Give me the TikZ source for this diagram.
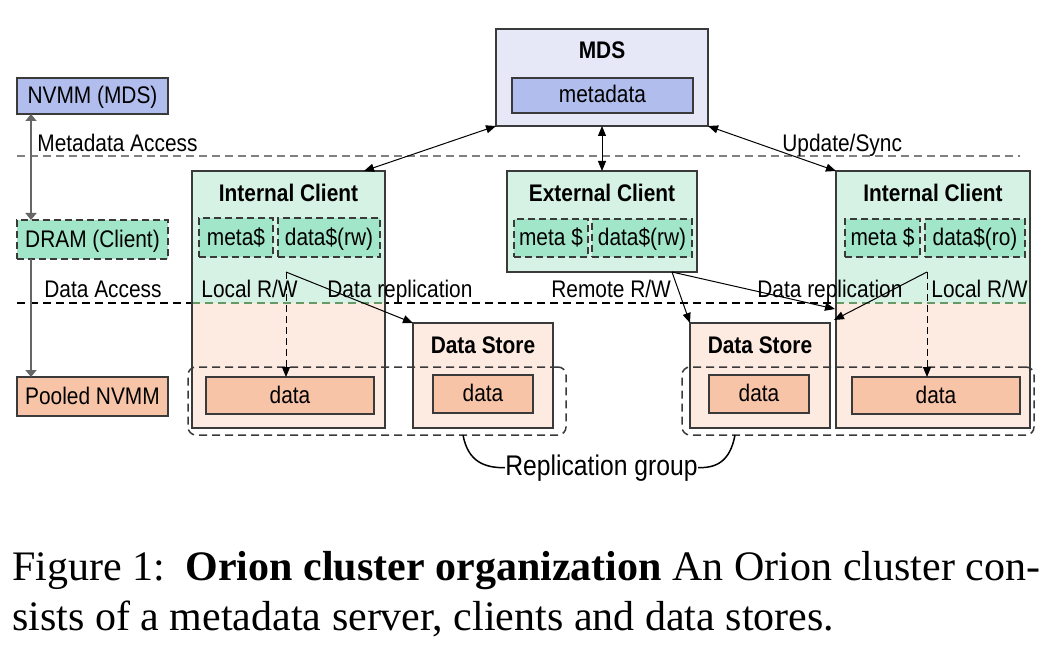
\documentclass[tikz,border=0pt]{standalone}
\usepackage{fontspec}
\setmainfont{Liberation Serif}
\newfontfamily\hv[FakeStretch=0.87]{Liberation Sans}
\usetikzlibrary{arrows.meta,fit,calc}
\definecolor{blueL}{HTML}{E6E8F8}
\definecolor{blueD}{HTML}{B1BDEC}
\definecolor{greenL}{HTML}{D6F2E5}
\definecolor{greenD}{HTML}{A2E6C9}
\definecolor{salL}{HTML}{FDEAE0}
\definecolor{salD}{HTML}{F8C4A8}
\definecolor{bordercol}{HTML}{3A3A3A}
\definecolor{legline}{HTML}{666666}
\begin{document}
\begin{tikzpicture}[x=0.5pt,y=-0.5pt,
  box/.style={draw=bordercol,line width=0.75pt,inner sep=0pt,outer sep=0pt},
  dbox/.style={box,dash pattern=on 3.5pt off 2pt},
  txt/.style={font=\hv\fontsize{12}{14}\selectfont,inner sep=0pt,anchor=base},
  ttl/.style={font=\hv\bfseries\fontsize{12}{14}\selectfont,inner sep=0pt,anchor=base},
  conn/.style={line width=0.5pt,-{Triangle[length=5pt,width=4pt]}},
  biconn/.style={line width=0.5pt,{Triangle[length=5pt,width=4pt]}-{Triangle[length=5pt,width=4pt]}},
  legconn/.style={draw=legline,line width=0.8pt,-{Triangle[length=3.5pt,width=5.5pt]}},
  legbiconn/.style={draw=legline,line width=0.8pt,{Triangle[length=3.5pt,width=5.5pt]}-{Triangle[length=3.5pt,width=5.5pt]}},
  sep/.style={line width=0.75pt,dash pattern=on 4pt off 2.5pt},
  group/.style={draw=bordercol,line width=0.75pt,dash pattern=on 4pt off 2.5pt,rounded corners=4pt,inner sep=0pt}
]
\useasboundingbox[fill=white] (0,0) rectangle (1062,658);

% separator lines
\draw[sep,draw=gray] (17,156) -- (1020,156);
\draw[sep,draw=black] (17,303) -- (1030,303);

% legend
\node[box,fill=blueD,fit={(17,78)(168,114)}] (nvmm) {};
\node[box,dash pattern=on 3.5pt off 2pt,fill=greenD,fit={(17,220)(168,259)}] (dram) {};
\node[box,fill=salD,fit={(17,377)(168,416)}] (pooled) {};
\node[txt] (nvmmt) at (92.5,104) {NVMM (MDS)};
\node[txt] (dramt) at (92.5,248) {DRAM (Client)};
\node[txt] (pooledt) at (92.5,404) {Pooled NVMM};
\draw[legbiconn] ($(nvmm.south west)+(14,0)$) -- ($(dram.north west)+(14,0)$);
\draw[legconn] ($(dram.south west)+(14,0)$) -- ($(pooled.north west)+(14,0)$);
\node[txt,anchor=base west] (mdacc) at (37,152) {Metadata Access};
\node[txt,anchor=base west] (dacc) at (44,298) {Data Access};

% MDS
\node[box,fill=blueL,fit={(496,29)(708,126)}] (mds) {};
\node[box,fill=blueD,fit={(512,78)(693,113)}] (meta) {};
\node[ttl] (mdst) at (602,59) {MDS};
\node[txt] (metat) at (602.5,103) {metadata};

% left internal client
\fill[greenL] (192,171) rectangle (385,303);
\fill[salL] (192,303) rectangle (385,428);
\draw[sep,draw=gray!80!green] (192,303) -- (385,303);
\node[box,fit={(192,171)(385,428)}] (lc) {};
\node[ttl] (lct) at (288.5,202) {Internal Client};
\node[dbox,fill=greenD,fit={(199,218)(273,257)}] (lcm) {};
\node[dbox,fill=greenD,fit={(278,218)(380,257)}] (lcd) {};
\node[txt] (lcmt) at (236,246) {meta\$};
\node[txt] (lcdt) at (329,246) {data\$(rw)};
\node[box,fill=salD,fit={(206,377)(374,414)}] (lcdata) {};
\node[txt] (lcdatat) at (290,403) {data};

% external client
\node[box,fill=greenL,fit={(507,171)(697,272)}] (ec) {};
\node[ttl] (ect) at (602,202) {External Client};
\node[dbox,fill=greenD,fit={(514,219)(588,257)}] (ecm) {};
\node[dbox,fill=greenD,fit={(592,219)(692,257)}] (ecd) {};
\node[txt] (ecmt) at (551,246) {meta \$};
\node[txt] (ecdt) at (642,246) {data\$(rw)};

% right internal client
\fill[greenL] (836,171) rectangle (1030,303);
\fill[salL] (836,303) rectangle (1030,428);
\draw[sep,draw=gray!80!green] (836,303) -- (1030,303);
\node[box,fit={(836,171)(1030,428)}] (rc) {};
\node[ttl] (rct) at (933,202) {Internal Client};
\node[dbox,fill=greenD,fit={(845,219)(920,257)}] (rcm) {};
\node[dbox,fill=greenD,fit={(925,219)(1025,257)}] (rcd) {};
\node[txt] (rcmt) at (882.5,246) {meta \$};
\node[txt] (rcdt) at (975,246) {data\$(ro)};
\node[box,fill=salD,fit={(852,377)(1020,414)}] (rcdata) {};
\node[txt] (rcdatat) at (936,403) {data};

% data stores
\node[box,fill=salL,fit={(413,323)(553,428)}] (ds1) {};
\node[ttl] (ds1t) at (483,353) {Data Store};
\node[box,fill=salD,fit={(433,375)(533,413)}] (ds1d) {};
\node[txt] (ds1dt) at (483,401) {data};
\node[box,fill=salL,fit={(690,323)(830,428)}] (ds2) {};
\node[ttl] (ds2t) at (760,353) {Data Store};
\node[box,fill=salD,fit={(709,375)(809,413)}] (ds2d) {};
\node[txt] (ds2dt) at (759,401) {data};

% replication groups
\node[group,fit={(188,367)(566,435)}] (rg1) {};
\node[group,fit={(682,367)(1034,435)}] (rg2) {};
\node[txt,font=\hv\fontsize{14.2}{16}\selectfont] (rgt) at (601.5,475) {Replication group};
\coordinate (c1) at (463,435);
\coordinate (c2) at (735,435);
\draw[line width=0.75pt] (c1) .. controls (468,462) and (485,468) .. (rgt.west);
\draw[line width=0.75pt] (c2) .. controls (730,462) and (716,468) .. (rgt.east);

% MDS connections
\coordinate (lctop) at (364,171);
\draw[biconn] (mds.south west) -- (lctop);
\draw[biconn] (mds.south) -- (ec.north);
\draw[biconn] (mds.south east) -- (rc.north west);
\node[txt,anchor=base west] (upd) at (782,152) {Update/Sync};

% data paths
\coordinate (lj) at (286,272);
\draw[conn] (lj) -- (ds1.north west);
\draw[conn,dash pattern=on 3.5pt off 2pt] (lj) -- (lj |- lcdata.north);
\coordinate (ej) at (672,272);
\coordinate (rcw) at (835,309);
\draw[conn] (ej) -- (ds2.north west);
\draw[conn] (ej) -- (rcw);
\coordinate (rj) at (927,272);
\coordinate (ds2ne) at (834,320);
\draw[conn] (rj) -- (ds2ne);
\draw[conn,dash pattern=on 3.5pt off 2pt] (rj) -- (rj |- rcdata.north);

\node[txt,anchor=base west] (lrw1) at (201,298) {Local R/W};
\node[txt,anchor=base west] (drep1) at (327,298) {Data replication};
\node[txt,anchor=base west] (rrw) at (551,298) {Remote R/W};
\node[txt,anchor=base west] (drep2) at (757,298) {Data replication};
\node[txt,anchor=base west] (lrw2) at (931,298) {Local R/W};

% caption
\node[anchor=base west,inner sep=0pt,font=\fontsize{21}{25}\selectfont] (cap1) at (12,580)
  {\makebox[514pt][s]{Figure 1:\hspace{0.48em}\textbf{Orion cluster organization} An Orion cluster con-}};
\node[anchor=base west,inner sep=0pt,font=\fontsize{21}{25}\selectfont] (cap2) at (12,630)
  {sists of a metadata server, clients and data stores.};
\end{tikzpicture}
\end{document}
